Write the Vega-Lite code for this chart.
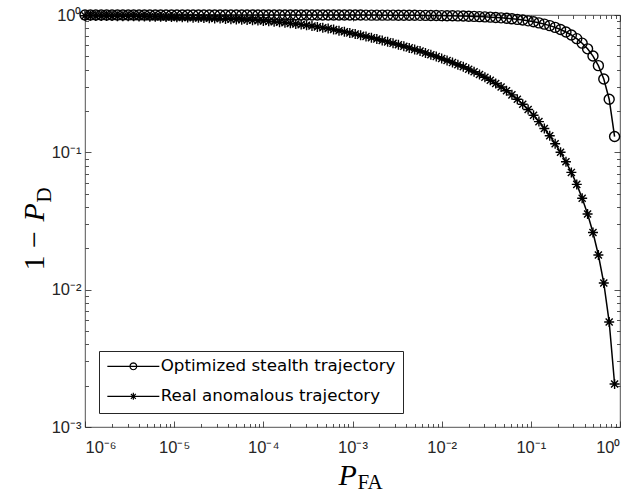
{
  "$schema": "https://vega.github.io/schema/vega-lite/v6.json",
  "width": 535,
  "height": 412,
  "autosize": {"type": "none"},
  "padding": {"left": 85, "top": 15, "right": 12, "bottom": 66},
  "background": "white",
  "config": {
    "view": {"stroke": "#262626", "strokeWidth": 0.8},
    "axis": {"domain": false, "grid": false, "labelFont": "Liberation Sans", "labelFontSize": 16.5, "labelColor": "#262626", "tickColor": "#262626", "tickWidth": 0.8, "titleColor": "black"}
  },
  "data": {"values": [
    {"pfa": 1e-6, "stealth": 1, "real": 0.98668},
    {"pfa": 1.1498e-6, "stealth": 1, "real": 0.98568},
    {"pfa": 1.3219e-6, "stealth": 1, "real": 0.9847},
    {"pfa": 1.5199e-6, "stealth": 1, "real": 0.9837},
    {"pfa": 1.7475e-6, "stealth": 1, "real": 0.98272},
    {"pfa": 2.0092e-6, "stealth": 1, "real": 0.98173},
    {"pfa": 2.3101e-6, "stealth": 1, "real": 0.98057},
    {"pfa": 2.6561e-6, "stealth": 1, "real": 0.97959},
    {"pfa": 3.0539e-6, "stealth": 1, "real": 0.9786},
    {"pfa": 3.5112e-6, "stealth": 1, "real": 0.97729},
    {"pfa": 4.037e-6, "stealth": 1, "real": 0.97565},
    {"pfa": 4.6416e-6, "stealth": 1, "real": 0.97402},
    {"pfa": 5.3367e-6, "stealth": 0.99999, "real": 0.97255},
    {"pfa": 6.1359e-6, "stealth": 0.99999, "real": 0.97092},
    {"pfa": 7.0548e-6, "stealth": 0.99999, "real": 0.96946},
    {"pfa": 8.1113e-6, "stealth": 0.99999, "real": 0.96784},
    {"pfa": 9.326e-6, "stealth": 0.99999, "real": 0.96621},
    {"pfa": 1.0723e-5, "stealth": 0.99999, "real": 0.96411},
    {"pfa": 1.2328e-5, "stealth": 0.99999, "real": 0.96137},
    {"pfa": 1.4175e-5, "stealth": 0.99999, "real": 0.95863},
    {"pfa": 1.6298e-5, "stealth": 0.99998, "real": 0.9559},
    {"pfa": 1.8738e-5, "stealth": 0.99998, "real": 0.95302},
    {"pfa": 2.1544e-5, "stealth": 0.99998, "real": 0.95031},
    {"pfa": 2.4771e-5, "stealth": 0.99998, "real": 0.9476},
    {"pfa": 2.848e-5, "stealth": 0.99997, "real": 0.9449},
    {"pfa": 3.2745e-5, "stealth": 0.99997, "real": 0.94158},
    {"pfa": 3.7649e-5, "stealth": 0.99996, "real": 0.93701},
    {"pfa": 4.3288e-5, "stealth": 0.99996, "real": 0.93247},
    {"pfa": 4.977e-5, "stealth": 0.99995, "real": 0.92795},
    {"pfa": 5.7224e-5, "stealth": 0.99994, "real": 0.92345},
    {"pfa": 6.5793e-5, "stealth": 0.99993, "real": 0.91897},
    {"pfa": 7.5646e-5, "stealth": 0.99992, "real": 0.91466},
    {"pfa": 8.6975e-5, "stealth": 0.99991, "real": 0.91022},
    {"pfa": 1e-4, "stealth": 0.9999, "real": 0.90581},
    {"pfa": 1.1498e-4, "stealth": 0.99989, "real": 0.8987},
    {"pfa": 1.3219e-4, "stealth": 0.99987, "real": 0.8918},
    {"pfa": 1.5199e-4, "stealth": 0.99985, "real": 0.8848},
    {"pfa": 1.7475e-4, "stealth": 0.99983, "real": 0.87786},
    {"pfa": 2.0092e-4, "stealth": 0.9998, "real": 0.86907},
    {"pfa": 2.3101e-4, "stealth": 0.99977, "real": 0.86008},
    {"pfa": 2.6561e-4, "stealth": 0.99973, "real": 0.85118},
    {"pfa": 3.0539e-4, "stealth": 0.99969, "real": 0.84252},
    {"pfa": 3.5112e-4, "stealth": 0.99965, "real": 0.83101},
    {"pfa": 4.037e-4, "stealth": 0.9996, "real": 0.81939},
    {"pfa": 4.6416e-4, "stealth": 0.99954, "real": 0.80779},
    {"pfa": 5.3367e-4, "stealth": 0.99947, "real": 0.79649},
    {"pfa": 6.1359e-4, "stealth": 0.99939, "real": 0.78325},
    {"pfa": 7.0548e-4, "stealth": 0.99929, "real": 0.76881},
    {"pfa": 8.1113e-4, "stealth": 0.99919, "real": 0.75476},
    {"pfa": 9.326e-4, "stealth": 0.99907, "real": 0.74084},
    {"pfa": 1.0723e-3, "stealth": 0.99893, "real": 0.72621},
    {"pfa": 1.2328e-3, "stealth": 0.99877, "real": 0.7115},
    {"pfa": 1.4175e-3, "stealth": 0.99858, "real": 0.69709},
    {"pfa": 1.6298e-3, "stealth": 0.99837, "real": 0.68298},
    {"pfa": 1.8738e-3, "stealth": 0.99813, "real": 0.66848},
    {"pfa": 2.1544e-3, "stealth": 0.99785, "real": 0.65264},
    {"pfa": 2.4771e-3, "stealth": 0.99752, "real": 0.63729},
    {"pfa": 2.848e-3, "stealth": 0.99715, "real": 0.62229},
    {"pfa": 3.2745e-3, "stealth": 0.99673, "real": 0.60724},
    {"pfa": 3.7649e-3, "stealth": 0.99624, "real": 0.59146},
    {"pfa": 4.3288e-3, "stealth": 0.99567, "real": 0.57609},
    {"pfa": 4.977e-3, "stealth": 0.99502, "real": 0.56103},
    {"pfa": 5.7224e-3, "stealth": 0.99428, "real": 0.54618},
    {"pfa": 6.5793e-3, "stealth": 0.99342, "real": 0.52958},
    {"pfa": 7.5646e-3, "stealth": 0.99244, "real": 0.5135},
    {"pfa": 8.6975e-3, "stealth": 0.9913, "real": 0.4979},
    {"pfa": 0.01, "stealth": 0.99, "real": 0.48278},
    {"pfa": 0.011498, "stealth": 0.9885, "real": 0.46631},
    {"pfa": 0.013219, "stealth": 0.98678, "real": 0.45025},
    {"pfa": 0.015199, "stealth": 0.9848, "real": 0.43475},
    {"pfa": 0.017475, "stealth": 0.98252, "real": 0.41978},
    {"pfa": 0.020092, "stealth": 0.97991, "real": 0.40322},
    {"pfa": 0.023101, "stealth": 0.9769, "real": 0.38634},
    {"pfa": 0.026561, "stealth": 0.97344, "real": 0.36925},
    {"pfa": 0.030539, "stealth": 0.96946, "real": 0.35201},
    {"pfa": 0.035112, "stealth": 0.96489, "real": 0.33447},
    {"pfa": 0.04037, "stealth": 0.95963, "real": 0.31673},
    {"pfa": 0.046416, "stealth": 0.95358, "real": 0.29868},
    {"pfa": 0.053367, "stealth": 0.94663, "real": 0.28048},
    {"pfa": 0.061359, "stealth": 0.93864, "real": 0.26207},
    {"pfa": 0.070548, "stealth": 0.92945, "real": 0.24343},
    {"pfa": 0.081113, "stealth": 0.91889, "real": 0.22412},
    {"pfa": 0.09326, "stealth": 0.90674, "real": 0.20507},
    {"pfa": 0.10723, "stealth": 0.89277, "real": 0.18605},
    {"pfa": 0.12328, "stealth": 0.87672, "real": 0.1674},
    {"pfa": 0.14175, "stealth": 0.85825, "real": 0.14912},
    {"pfa": 0.16298, "stealth": 0.83702, "real": 0.13194},
    {"pfa": 0.18738, "stealth": 0.81262, "real": 0.11557},
    {"pfa": 0.21544, "stealth": 0.78456, "real": 0.10005},
    {"pfa": 0.24771, "stealth": 0.75229, "real": 0.08531},
    {"pfa": 0.2848, "stealth": 0.7152, "real": 0.07142},
    {"pfa": 0.32745, "stealth": 0.67255, "real": 0.05842},
    {"pfa": 0.37649, "stealth": 0.62351, "real": 0.04635},
    {"pfa": 0.43288, "stealth": 0.56712, "real": 0.03556},
    {"pfa": 0.4977, "stealth": 0.5023, "real": 0.02607},
    {"pfa": 0.57224, "stealth": 0.42776, "real": 0.01788},
    {"pfa": 0.65793, "stealth": 0.34207, "real": 0.01118},
    {"pfa": 0.75646, "stealth": 0.24354, "real": 0.005812},
    {"pfa": 0.86975, "stealth": 0.13025, "real": 0.002055}
  ]},
  "transform": [{"fold": ["stealth", "real"], "as": ["series", "value"]}],
  "resolve": {"scale": {"shape": "independent"}, "axis": {"x": "independent", "y": "independent"}},
  "layer": [
    {
      "mark": {"type": "line", "stroke": "black", "strokeWidth": 1.5},
      "encoding": {
        "x": {"field": "pfa", "type": "quantitative", "scale": {"type": "log", "domain": [0.000001, 1], "nice": false},
          "axis": {"orient": "bottom", "values": [0.000001, 0.00001, 0.0001, 0.001, 0.01, 0.1, 1], "ticks": false, "labelPadding": 25, "labelBaseline": "alphabetic",
            "labelExpr": "'10' + ['⁰','⁻¹','⁻²','⁻³','⁻⁴','⁻⁵','⁻⁶'][round(-log(datum.value)/LN10)]",
            "title": "P", "titleFont": "Liberation Serif", "titleFontStyle": "italic", "titleFontWeight": "normal", "titleFontSize": 30, "titleX": 253, "titleY": 57, "titleAlign": "left", "titleBaseline": "alphabetic", "titleAngle": 0}},
        "y": {"field": "value", "type": "quantitative", "scale": {"type": "log", "domain": [0.001, 1], "nice": false},
          "axis": {"orient": "left", "values": [0.001, 0.01, 0.1, 1], "ticks": false, "labelPadding": 4, "labelBaseline": "middle",
            "labelExpr": "'10' + ['⁰','⁻¹','⁻²','⁻³'][round(-log(datum.value)/LN10)]",
            "title": "1 −", "titleFont": "Liberation Serif", "titleFontWeight": "normal", "titleFontSize": 30, "titleAngle": 270, "titleX": -42, "titleY": 255, "titleAlign": "left", "titleBaseline": "alphabetic"}},
        "detail": {"field": "series"}
      }
    },
    {
      "mark": {"type": "point", "filled": false, "stroke": "black", "strokeWidth": 1.4, "size": 100, "opacity": 1},
      "encoding": {
        "x": {"field": "pfa", "type": "quantitative",
          "axis": {"orient": "bottom", "values": [0.000002,0.000003,0.000004,0.000005,0.000006,0.000007,0.000008,0.000009,0.00002,0.00003,0.00004,0.00005,0.00006,0.00007,0.00008,0.00009,0.0002,0.0003,0.0004,0.0005,0.0006,0.0007,0.0008,0.0009,0.002,0.003,0.004,0.005,0.006,0.007,0.008,0.009,0.02,0.03,0.04,0.05,0.06,0.07,0.08,0.09,0.2,0.3,0.4,0.5,0.6,0.7,0.8,0.9], "ticks": true, "tickSize": -3.5, "labels": false, "title": null}},
        "y": {"field": "value", "type": "quantitative",
          "axis": {"orient": "left", "values": [0.002,0.003,0.004,0.005,0.006,0.007,0.008,0.009,0.02,0.03,0.04,0.05,0.06,0.07,0.08,0.09,0.2,0.3,0.4,0.5,0.6,0.7,0.8,0.9], "ticks": true, "tickSize": -3.5, "labels": false,
            "title": "P", "titleFont": "Liberation Serif", "titleFontStyle": "italic", "titleFontWeight": "normal", "titleFontSize": 30, "titleAngle": 270, "titleX": -42, "titleY": 206, "titleAlign": "left", "titleBaseline": "alphabetic"}},
        "shape": {"field": "series", "type": "nominal", "scale": {"domain": ["stealth", "real"], "range": ["circle", "M-1,0L1,0M0,-1L0,1M-0.707,-0.707L0.707,0.707M-0.707,0.707L0.707,-0.707"]}, "legend": null}
      }
    },
    {
      "mark": {"type": "point", "filled": false, "opacity": 0},
      "encoding": {
        "x": {"field": "pfa", "type": "quantitative",
          "axis": {"orient": "bottom", "values": [0.000001, 0.00001, 0.0001, 0.001, 0.01, 0.1, 1], "ticks": true, "tickSize": -6, "labels": false, "title": null}},
        "y": {"field": "value", "type": "quantitative",
          "axis": {"orient": "left", "values": [0.001, 0.01, 0.1, 1], "ticks": true, "tickSize": -6, "labels": false, "title": null}},
        "shape": {"field": "series", "type": "nominal",
          "scale": {"domain": ["stealth", "real"], "range": [
            "M-5.2,0L5.2,0M0.68,0L0.589,0.34L0.34,0.589L0,0.68L-0.34,0.589L-0.589,0.34L-0.68,0L-0.589,-0.34L-0.34,-0.589L0,-0.68L0.34,-0.589L0.589,-0.34Z",
            "M-5.2,0L5.2,0M0,-0.7L0,0.7M-0.495,-0.495L0.495,0.495M-0.495,0.495L0.495,-0.495"]},
          "legend": {"orient": "bottom-left", "offset": 14, "title": null, "padding": 7, "strokeColor": "#262626", "fillColor": "white",
            "labelFont": "DejaVu Sans", "labelFontSize": 16.7, "labelColor": "black", "labelLimit": 400, "labelOffset": 19, "symbolOffset": 19,
            "symbolSize": 100, "symbolStrokeColor": "black", "symbolFillColor": "transparent", "symbolStrokeWidth": 1.2, "symbolOpacity": 1, "rowPadding": 12,
            "labelExpr": "datum.value == 'stealth' ? 'Optimized stealth trajectory' : 'Real anomalous trajectory'"}}
      }
    },
    {
      "mark": {"type": "point", "opacity": 0},
      "encoding": {
        "x": {"field": "pfa", "type": "quantitative",
          "axis": {"orient": "top", "values": [0.000001, 0.00001, 0.0001, 0.001, 0.01, 0.1, 1], "ticks": true, "tickSize": -6, "labels": false, "title": null}},
        "y": {"field": "value", "type": "quantitative",
          "axis": {"orient": "right", "values": [0.001, 0.01, 0.1, 1], "ticks": true, "tickSize": -6, "labels": false, "title": null}}
      }
    },
    {
      "mark": {"type": "point", "opacity": 0},
      "encoding": {
        "x": {"field": "pfa", "type": "quantitative",
          "axis": {"orient": "top", "values": [0.000002,0.000003,0.000004,0.000005,0.000006,0.000007,0.000008,0.000009,0.00002,0.00003,0.00004,0.00005,0.00006,0.00007,0.00008,0.00009,0.0002,0.0003,0.0004,0.0005,0.0006,0.0007,0.0008,0.0009,0.002,0.003,0.004,0.005,0.006,0.007,0.008,0.009,0.02,0.03,0.04,0.05,0.06,0.07,0.08,0.09,0.2,0.3,0.4,0.5,0.6,0.7,0.8,0.9], "ticks": true, "tickSize": -3.5, "labels": false, "title": null}},
        "y": {"field": "value", "type": "quantitative",
          "axis": {"orient": "right", "values": [0.002,0.003,0.004,0.005,0.006,0.007,0.008,0.009,0.02,0.03,0.04,0.05,0.06,0.07,0.08,0.09,0.2,0.3,0.4,0.5,0.6,0.7,0.8,0.9], "ticks": true, "tickSize": -3.5, "labels": false, "title": null}}
      }
    },
    {
      "mark": {"type": "point", "opacity": 0},
      "encoding": {
        "x": {"field": "pfa", "type": "quantitative",
          "axis": {"orient": "bottom", "ticks": false, "labels": false, "title": "FA", "titleFont": "Liberation Serif", "titleFontWeight": "normal", "titleFontSize": 21, "titleX": 272, "titleY": 61, "titleAlign": "left", "titleBaseline": "alphabetic", "titleAngle": 0}},
        "y": {"field": "value", "type": "quantitative",
          "axis": {"orient": "left", "ticks": false, "labels": false, "title": "D", "titleFont": "Liberation Serif", "titleFontWeight": "normal", "titleFontSize": 21, "titleAngle": 270, "titleX": -35, "titleY": 187, "titleAlign": "left", "titleBaseline": "alphabetic"}}
      }
    }
  ]
}
